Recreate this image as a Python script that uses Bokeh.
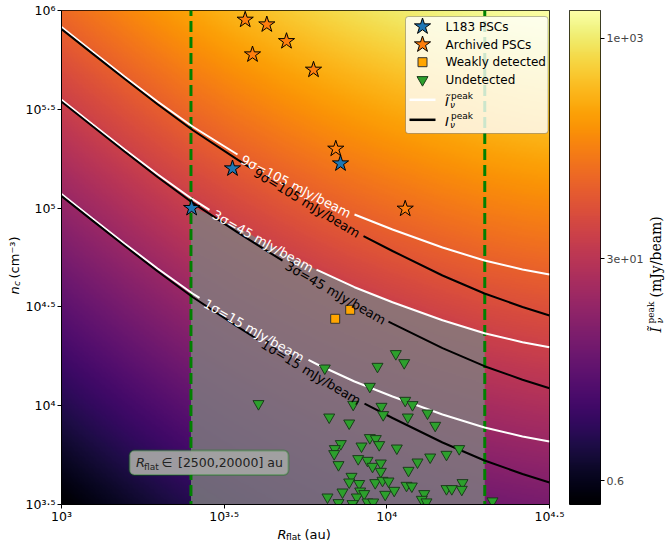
import numpy as np
from bokeh.plotting import figure
from bokeh.models import (Range1d, LogColorMapper, FixedTicker, Label,
                          BoxAnnotation)
from bokeh.layouts import row, column
from bokeh.palettes import Inferno256
from bokeh.embed import file_html
from bokeh.resources import INLINE

# ============================ data ============================
R_ticks = [1e3, 10 ** 3.5, 1e4, 10 ** 4.5]
R_tick_labels = ["10³", "10³·⁵", "10⁴", "10⁴·⁵"]
nc_ticks = [10 ** 3.5, 1e4, 10 ** 4.5, 1e5, 10 ** 5.5, 1e6]
nc_tick_labels = ["10³·⁵", "10⁴", "10⁴·⁵", "10⁵", "10⁵·⁵", "10⁶"]
R_window = [2500, 20000]          # au

contour_levels = [105, 45, 15]    # mJy/beam
contour_sigmas = [9, 3, 1]

# contour curves (log10 R_flat, log10 n_c)
curve_logR = [3.0, 3.0953, 3.1936, 3.2951, 3.4027, 3.5410, 3.6793, 3.7869,
              3.9006, 4.0174, 4.1711, 4.3002, 4.4170, 4.5]
tilde_logn_105 = [5.9165, 5.7925, 5.6660, 5.5395, 5.4130, 5.2713, 5.1447,
                  5.0536, 4.9676, 4.8917, 4.8006, 4.7348, 4.6893, 4.6640]
tilde_logn_45 = [5.5486, 5.4246, 5.2981, 5.1716, 5.0450, 4.9033, 4.7768,
                 4.6857, 4.5997, 4.5238, 4.4327, 4.3669, 4.3214, 4.2960]
tilde_logn_15 = [5.0714, 4.9474, 4.8209, 4.6943, 4.5678, 4.4261, 4.2996,
                 4.2085, 4.1225, 4.0466, 3.9555, 3.8897, 3.8441, 3.8188]
peak_logn_105 = [5.9064, 5.7819, 5.6544, 5.5253, 5.3953, 5.2450, 5.1017,
                 4.9929, 4.8816, 4.7829, 4.6589, 4.5678, 4.4995, 4.4565]
peak_logn_45 = [5.5385, 5.4140, 5.2864, 5.1574, 5.0273, 4.8770, 4.7338,
                4.6250, 4.5137, 4.4150, 4.2910, 4.1999, 4.1316, 4.0886]
peak_logn_15 = [5.0612, 4.9367, 4.8092, 4.6802, 4.5501, 4.3998, 4.2566,
                4.1478, 4.0364, 3.9378, 3.8138, 3.7227, 3.6544, 3.6113]

# upper edge of the shaded selection region
shade_logR = [3.3979, 3.5410, 3.6793, 3.7869, 3.9006, 4.0174, 4.1711, 4.3010]
shade_logn = [5.0081, 4.9033, 4.7768, 4.6857, 4.5997, 4.5238, 4.4327, 4.3654]

# sources
l183_logR = [3.4000, 3.5256, 3.8576]
l183_logn = [5.0000, 5.2004, 5.2257]
arch_logR = [3.5647, 3.6311, 3.6916, 3.5871, 3.7746, 3.8431, 4.0565]
arch_logn = [5.9529, 5.9291, 5.8446, 5.7773, 5.6999, 5.3001, 4.9965]
weak_logR = [3.8413, 3.8874]
weak_logn = [4.4398, 4.4853]
undet_logR = [4.0276, 4.0534, 3.9713, 3.8093, 3.9477, 4.0565, 4.0789, 3.8966,
              3.9836, 3.9888, 4.1250, 3.8229, 4.0645, 3.8843, 4.1487, 3.9477,
              3.9661, 3.9766, 3.8585, 3.9221, 3.8401, 4.0307, 3.8382, 4.2225,
              4.1834, 4.1333, 3.9120, 3.9406, 4.0943, 3.9560, 3.9815, 3.8514,
              3.9815, 4.0666, 3.8914, 3.8843, 3.9643, 3.9867, 4.0051, 3.9151,
              4.0605, 4.0768, 4.2326, 3.8637, 3.9181, 4.0227, 4.1834, 4.1997,
              4.2304, 3.9077, 3.9304, 3.9950, 4.1149, 3.8176, 4.1075, 4.1219,
              3.8514, 3.8945, 3.9406, 3.9581, 4.3248, 3.6055]
undet_logn = [4.2627, 4.2171, 4.1984, 4.1898, 4.0972, 4.0263, 4.0046, 4.0061,
              3.9960, 3.9539, 3.9620, 3.9418, 3.9418, 3.9115, 3.8998, 3.8376,
              3.8325, 3.8021, 3.8072, 3.7950, 3.7819, 3.7849, 3.7566, 3.7819,
              3.7530, 3.7394, 3.7313, 3.7227, 3.7141, 3.6923, 3.7090, 3.7009,
              3.6670, 3.6721, 3.6417, 3.6129, 3.6098, 3.6215, 3.6179, 3.6053,
              3.5962, 3.5926, 3.6098, 3.5623, 3.5673, 3.5709, 3.5795, 3.5795,
              3.5759, 3.5370, 3.5542, 3.5506, 3.5542, 3.5370, 3.5253, 3.5123,
              3.5086, 3.5036, 3.5117, 3.5117, 3.5173, 4.0097]

cbar_ticks = [0.608, 29.5, 1406]
cbar_tick_labels = ["0.6", "3e+01", "1e+03"]

legend_labels = ["L183 PSCs", "Archived PSCs", "Weakly detected", "Undetected"]

# ============================ layout ============================
FONT = "DejaVu Sans"
SERIF = "DejaVu Serif"
FW, FH = 488, 494              # frame size (px)
FX0, FY0 = 59, 10              # frame top-left on the page
LR0, LR1, LN0, LN1 = 3.0, 4.5, 3.5, 6.0
YLAB_W = 22
BOTTOM = 22
ROW_H = FY0 + FH + BOTTOM
CB_W = 31
CBLAB_X0 = 642
TOTAL_W = 663


def px_R(px):
    return 10 ** (LR0 + (px - FX0) * (LR1 - LR0) / FW)


def py_n(py):
    return 10 ** (LN1 - (py - FY0) * (LN1 - LN0) / FH)


def aux_fig(w, h):
    f = figure(frame_width=w, frame_height=h, x_range=Range1d(0, w),
               y_range=Range1d(h, 0), min_border=0, min_border_left=0,
               min_border_right=0, min_border_top=0, min_border_bottom=0,
               x_axis_location=None, y_axis_location=None,
               output_backend="svg", toolbar_location=None)
    f.outline_line_color = None
    f.background_fill_color = "white"
    f.border_fill_color = "white"
    for g in f.grid:
        g.visible = False
    f.xgrid.visible = False
    f.ygrid.visible = False
    return f


def txt(fig, x, y, text, size, font=FONT, style="normal", angle=0.0,
        align="left", color="black"):
    fig.add_layout(Label(x=x, y=y, text=text, text_font=font,
                         text_font_style=style, text_font_size=size,
                         angle=angle, text_align=align,
                         text_baseline="middle", text_color=color))


# ---------------- main figure ----------------
p = figure(x_axis_type="log", y_axis_type="log",
           x_range=Range1d(10 ** LR0, 10 ** LR1),
           y_range=Range1d(10 ** LN0, 10 ** LN1),
           frame_width=FW, frame_height=FH,
           min_border_left=FX0 - YLAB_W, min_border_right=18,
           min_border_top=FY0, min_border_bottom=BOTTOM,
           output_backend="svg", toolbar_location=None)
p.grid.visible = False
p.outline_line_color = "black"
p.outline_line_width = 1
p.border_fill_color = "white"

for ax, ticks, labels, stand in ((p.xaxis, R_ticks, R_tick_labels, 0),
                                 (p.yaxis, nc_ticks, nc_tick_labels, 2)):
    ax.ticker = FixedTicker(ticks=ticks, minor_ticks=[])
    ax.major_label_overrides = dict(zip(ticks, labels))
    ax.major_tick_out = 4
    ax.major_tick_in = 0
    ax.minor_tick_out = 0
    ax.minor_tick_in = 0
    ax.axis_line_color = "black"
    ax.major_label_text_font = FONT
    ax.major_label_text_font_size = "12.5px"
    ax.major_label_text_color = "black"
    ax.major_label_standoff = stand

# background field
nx, ny = 400, 400
gu = np.linspace(LR0, LR1, nx)
gv = np.linspace(LN0, LN1, ny)
ref_curve = np.interp(gu, curve_logR, tilde_logn_105)
log_field = gv[:, None] - ref_curve[None, :] + np.log10(contour_levels[0])
field = 10 ** log_field
vmin, vmax = float(field.min()), float(field.max())
mapper = LogColorMapper(palette=Inferno256, low=vmin, high=vmax)
p.image(image=[field], x=10 ** LR0, y=10 ** LN0,
        dw=10 ** LR1 - 10 ** LR0, dh=10 ** LN1 - 10 ** LN0,
        color_mapper=mapper)

# shaded selection region
sx = list(10 ** np.array(shade_logR)) + [R_window[1], R_window[0]]
sy = list(10 ** np.array(shade_logn)) + [10 ** 3.3, 10 ** 3.3]
p.patch(sx, sy, fill_color="grey", fill_alpha=0.8, line_color=None)

# window lines
for rw in R_window:
    p.line([rw, rw], [10 ** 3.3, 10 ** 6.1], line_color="green",
           line_width=3, line_dash="11 5")

# contour curves with inline labels
curves = [
    (tilde_logn_105, "white", 0, (3.5410, 3.9006)),
    (peak_logn_105, "black", 0, (3.5809, 3.9283)),
    (tilde_logn_45, "white", 1, (3.4549, 3.7838)),
    (peak_logn_45, "black", 1, (3.6793, 4.0051)),
    (tilde_logn_15, "white", 2, (3.4242, 3.7592)),
    (peak_logn_15, "black", 2, (3.6025, 3.9314)),
]
pix_ratio = (FH / (LN1 - LN0)) / (FW / (LR1 - LR0))
for logn, col, k, (g0, g1) in curves:
    lr = np.array(curve_logR)
    ln = np.array(logn)
    e0 = np.interp(g0, lr, ln)
    e1 = np.interp(g1, lr, ln)
    m0 = lr < g0
    m1 = lr > g1
    p.line(10 ** np.r_[lr[m0], g0], 10 ** np.r_[ln[m0], e0],
           line_color=col, line_width=2)
    p.line(10 ** np.r_[g1, lr[m1]], 10 ** np.r_[e1, ln[m1]],
           line_color=col, line_width=2)
    uc = 0.5 * (g0 + g1)
    vc = np.interp(uc, lr, ln)
    ang = np.arctan((e1 - e0) / (g1 - g0) * pix_ratio)
    txt(p, 10 ** uc, 10 ** vc,
        f"{contour_sigmas[k]}σ={contour_levels[k]} mJy/beam", "13px",
        angle=ang, align="center", color=col)

# sources
TRI = dict(marker="inverted_triangle", size=11, fill_color="#2ca02c",
           line_color="#1b3b1b", line_width=1)
SQ = dict(marker="square", size=9, fill_color="#ffa500",
          line_color="#333333", line_width=1)
ARCH = dict(marker="star", size=17, fill_color="#ff7f0e",
            line_color="black", line_width=1)
L183 = dict(marker="star", size=17, fill_color="#1f77b4",
            line_color="black", line_width=1)
p.scatter(10 ** np.array(undet_logR), 10 ** np.array(undet_logn), **TRI)
p.scatter(10 ** np.array(weak_logR), 10 ** np.array(weak_logn), **SQ)
p.scatter(10 ** np.array(arch_logR), 10 ** np.array(arch_logn), **ARCH)
p.scatter(10 ** np.array(l183_logR), 10 ** np.array(l183_logn), **L183)

# legend (drawn by hand so the markers keep their real size)
p.add_layout(BoxAnnotation(left=px_R(403), right=px_R(545.5),
                           top=py_n(16), bottom=py_n(133),
                           fill_color="white", fill_alpha=0.8,
                           line_color="#222222", line_width=1,
                           border_radius=3))
row_y = [26, 44, 61.7, 79.3, 99.3, 119.3]
for yy, style in zip(row_y[:4], (L183, ARCH, SQ, TRI)):
    r = p.scatter([px_R(420)], [py_n(yy)], **style)
    r.level = "overlay"
for yy, col in zip(row_y[4:], ("white", "black")):
    r = p.line([px_R(407), px_R(433)], [py_n(yy), py_n(yy)],
               line_color=col, line_width=2.5)
    r.level = "overlay"
for yy, lab in zip(row_y[:4], legend_labels):
    txt(p, px_R(443), py_n(yy), lab, "12px")
for yy, base in zip(row_y[4:], ("Ĩ", "I")):
    txt(p, px_R(442.5), py_n(yy + 1.5), base, "13px", style="italic")
    txt(p, px_R(448.5), py_n(yy - 3.5), "peak", "9px")
    txt(p, px_R(447.5), py_n(yy + 5.5), "ν", "9px", style="italic")

# annotation box
p.add_layout(BoxAnnotation(left=px_R(127), right=px_R(286),
                           top=py_n(450), bottom=py_n(474.5),
                           fill_color="#a3a3a3", fill_alpha=0.95,
                           line_color="green", line_width=2,
                           border_radius=5))
txt(p, px_R(133.5), py_n(462), "R", "13px", style="italic", color="#222222")
txt(p, px_R(141.5), py_n(466), "flat", "9px", color="#222222")
txt(p, px_R(159), py_n(462), "∈", "12.5px", color="#222222")
txt(p, px_R(175.5), py_n(462), "[2500,20000] au", "12.5px", color="#222222")

# ---------------- colour bar ----------------
lo, hi = np.log10(vmin), np.log10(vmax)
p2 = figure(frame_width=CB_W, frame_height=FH, min_border_left=2,
            min_border_right=CBLAB_X0 - (FX0 + FW + 18 + 2 + CB_W),
            min_border_top=FY0, min_border_bottom=BOTTOM,
            x_range=Range1d(0, 1), y_range=Range1d(vmin, vmax),
            y_axis_type="log", y_axis_location="right", x_axis_location=None,
            output_backend="svg", toolbar_location=None)
p2.grid.visible = False
p2.outline_line_color = "black"
p2.outline_line_width = 1
p2.border_fill_color = "white"
grad = 10 ** np.linspace(lo, hi, 256)[:, None]
p2.image(image=[grad], x=0, y=vmin, dw=1, dh=vmax - vmin, color_mapper=mapper)
ya = p2.yaxis[0]
ya.ticker = FixedTicker(ticks=cbar_ticks, minor_ticks=[])
ya.major_label_overrides = dict(zip(cbar_ticks, cbar_tick_labels))
ya.major_tick_out = 4
ya.major_tick_in = 0
ya.minor_tick_out = 0
ya.minor_tick_in = 0
ya.axis_line_color = None
ya.major_label_text_font = FONT
ya.major_label_text_font_size = "11px"
ya.major_label_standoff = 2

# ---------------- axis titles (own small canvases) ----------------
ylab = aux_fig(YLAB_W, ROW_H)
V = np.pi / 2
txt(ylab, 13.5, 284, "n", "13px", style="italic", angle=V)
txt(ylab, 16.5, 275.5, "c", "9px", style="italic", angle=V)
txt(ylab, 13.5, 268, "(cm⁻³)", "13px", angle=V)

cblab = aux_fig(TOTAL_W - CBLAB_X0, ROW_H)
cx = 651 - CBLAB_X0
txt(cblab, cx, 322, "Ĩ", "14px", font=SERIF, style="italic", angle=V)
txt(cblab, cx + 4, 313, "ν", "9.5px", font=SERIF, style="italic", angle=V)
txt(cblab, cx - 4.5, 313, "peak", "9px", font=SERIF, angle=V)
txt(cblab, cx, 287, "(mJy/beam)", "14px", font=SERIF, angle=V)

xlab = aux_fig(TOTAL_W, 18)
txt(xlab, 277, 7.6, "R", "13px", style="italic")
txt(xlab, 285.5, 10.5, "flat", "9px")
txt(xlab, 304, 7.6, "(au)", "13px")

layout = column(row(ylab, p, p2, cblab), xlab)
open("out.html", "w").write(file_html(layout, INLINE))
